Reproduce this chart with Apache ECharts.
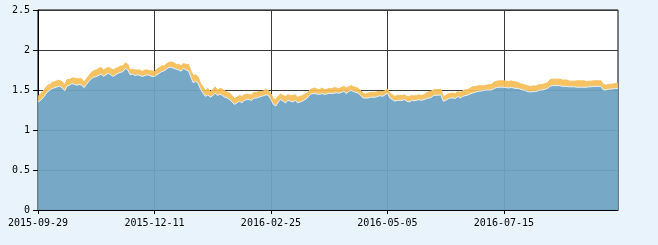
<!DOCTYPE html>
<html>
<head>
<meta charset="utf-8">
<script src="https://cdn.jsdelivr.net/npm/echarts@6/dist/echarts.min.js"></script>
<style>
html,body{margin:0;padding:0;background:#e8f3fb;}
#c{width:658px;height:245px;}
</style>
</head>
<body>
<div id="c"></div>
<script>
// Trading dates (categories)
const dates = [
'2015-09-29','2015-09-30',
'2015-10-08','2015-10-09','2015-10-12','2015-10-13','2015-10-14','2015-10-15','2015-10-16','2015-10-19','2015-10-20','2015-10-21','2015-10-22','2015-10-23','2015-10-26','2015-10-27','2015-10-28','2015-10-29','2015-10-30',
'2015-11-02','2015-11-03','2015-11-04','2015-11-05','2015-11-06','2015-11-09','2015-11-10','2015-11-11','2015-11-12','2015-11-13','2015-11-16','2015-11-17','2015-11-18','2015-11-19','2015-11-20','2015-11-23','2015-11-24','2015-11-25','2015-11-26','2015-11-27','2015-11-30',
'2015-12-01','2015-12-02','2015-12-03','2015-12-04','2015-12-07','2015-12-08','2015-12-09','2015-12-10',
'2015-12-11','2015-12-14','2015-12-15','2015-12-16','2015-12-17','2015-12-18','2015-12-21','2015-12-22','2015-12-23','2015-12-24','2015-12-25','2015-12-28','2015-12-29','2015-12-30','2015-12-31',
'2016-01-04','2016-01-05','2016-01-06','2016-01-07','2016-01-08','2016-01-11','2016-01-12','2016-01-13','2016-01-14','2016-01-15','2016-01-18','2016-01-19','2016-01-20','2016-01-21','2016-01-22','2016-01-25','2016-01-26','2016-01-27','2016-01-28','2016-01-29',
'2016-02-01','2016-02-02','2016-02-03','2016-02-04','2016-02-05','2016-02-15','2016-02-16','2016-02-17','2016-02-18','2016-02-19','2016-02-22','2016-02-23','2016-02-24',
'2016-02-25','2016-02-26','2016-02-29',
'2016-03-01','2016-03-02','2016-03-03','2016-03-04','2016-03-07','2016-03-08','2016-03-09','2016-03-10','2016-03-11','2016-03-14','2016-03-15','2016-03-16','2016-03-17','2016-03-18','2016-03-21','2016-03-22','2016-03-23','2016-03-24','2016-03-25','2016-03-28','2016-03-29','2016-03-30','2016-03-31',
'2016-04-01','2016-04-05','2016-04-06','2016-04-07','2016-04-08','2016-04-11','2016-04-12','2016-04-13','2016-04-14','2016-04-15','2016-04-18','2016-04-19','2016-04-20','2016-04-21','2016-04-22','2016-04-25','2016-04-26','2016-04-27','2016-04-28','2016-04-29',
'2016-05-03','2016-05-04',
'2016-05-05','2016-05-06','2016-05-09','2016-05-10','2016-05-11','2016-05-12','2016-05-13','2016-05-16','2016-05-17','2016-05-18','2016-05-19','2016-05-20','2016-05-23','2016-05-24','2016-05-25','2016-05-26','2016-05-27','2016-05-30','2016-05-31',
'2016-06-01','2016-06-02','2016-06-03','2016-06-06','2016-06-07','2016-06-13','2016-06-14','2016-06-15','2016-06-16','2016-06-17','2016-06-20','2016-06-21','2016-06-22','2016-06-23','2016-06-24','2016-06-27','2016-06-28','2016-06-29','2016-06-30',
'2016-07-01','2016-07-04','2016-07-05','2016-07-06','2016-07-07','2016-07-08','2016-07-11','2016-07-12','2016-07-13','2016-07-14',
'2016-07-15','2016-07-18','2016-07-19','2016-07-20','2016-07-21','2016-07-22','2016-07-25','2016-07-26','2016-07-27','2016-07-28','2016-07-29',
'2016-08-01','2016-08-02','2016-08-03','2016-08-04','2016-08-05','2016-08-08','2016-08-09','2016-08-10','2016-08-11','2016-08-12','2016-08-15','2016-08-16','2016-08-17','2016-08-18','2016-08-19','2016-08-22','2016-08-23','2016-08-24','2016-08-25','2016-08-26','2016-08-29','2016-08-30','2016-08-31',
'2016-09-01','2016-09-02','2016-09-05','2016-09-06','2016-09-07','2016-09-08','2016-09-09','2016-09-12','2016-09-13','2016-09-14',
'2016-09-19','2016-09-20','2016-09-21','2016-09-22'
];

// Lower (blue) series
const baseValues = [
1.35,1.37,1.40,1.44,1.48,1.50,1.52,1.53,1.54,1.55,
1.52,1.49,1.55,1.56,1.58,1.57,1.56,1.57,1.56,1.53,
1.57,1.61,1.64,1.66,1.67,1.68,1.70,1.67,1.69,1.71,
1.69,1.67,1.69,1.71,1.72,1.73,1.77,1.75,1.69,1.70,
1.68,1.69,1.68,1.67,1.68,1.69,1.68,1.67,1.67,1.69,
1.71,1.73,1.74,1.76,1.785,1.78,1.77,1.76,1.75,1.735,
1.77,1.75,1.74,1.66,1.59,1.61,1.58,1.51,1.46,1.42,
1.44,1.41,1.43,1.46,1.43,1.45,1.43,1.41,1.40,1.38,
1.35,1.32,1.34,1.36,1.34,1.37,1.38,1.38,1.37,1.40,
1.40,1.41,1.42,1.43,1.44,1.43,1.38,1.32,1.30,1.35,
1.38,1.36,1.34,1.37,1.36,1.35,1.37,1.34,1.35,1.36,
1.38,1.40,1.44,1.455,1.455,1.45,1.445,1.455,1.445,1.45,
1.46,1.455,1.46,1.465,1.46,1.47,1.485,1.455,1.48,1.495,
1.48,1.47,1.46,1.43,1.40,1.40,1.40,1.41,1.41,1.41,
1.42,1.43,1.42,1.44,1.46,1.40,1.38,1.36,1.37,1.37,
1.37,1.38,1.36,1.35,1.37,1.365,1.37,1.38,1.37,1.38,
1.39,1.40,1.405,1.43,1.435,1.435,1.44,1.36,1.37,1.39,
1.40,1.40,1.395,1.42,1.40,1.42,1.43,1.435,1.45,1.46,
1.47,1.48,1.485,1.49,1.495,1.50,1.50,1.50,1.52,1.53,
1.535,1.535,1.535,1.53,1.525,1.535,1.525,1.52,1.52,1.505,
1.50,1.49,1.48,1.475,1.48,1.48,1.49,1.50,1.50,1.51,
1.52,1.547,1.555,1.555,1.555,1.555,1.545,1.545,1.545,1.54,
1.54,1.54,1.535,1.535,1.535,1.535,1.535,1.54,1.54,1.545,
1.545,1.545,1.545,1.50,1.50,1.51,1.51,1.515,1.52,1.52
];

// Upper (orange) stacked series
const topValues = [
0.07,0.08,0.08,0.08,0.08,0.07,0.08,0.07,0.08,0.07,
0.08,0.08,0.08,0.07,0.07,0.08,0.08,0.07,0.08,0.07,
0.07,0.07,0.08,0.08,0.08,0.09,0.08,0.08,0.08,0.07,
0.08,0.08,0.08,0.07,0.08,0.07,0.07,0.07,0.06,0.06,
0.07,0.06,0.07,0.06,0.07,0.06,0.06,0.07,0.06,0.07,
0.07,0.07,0.06,0.07,0.06,0.07,0.07,0.06,0.07,0.07,
0.06,0.07,0.08,0.08,0.09,0.08,0.08,0.07,0.08,0.07,
0.08,0.07,0.07,0.08,0.07,0.07,0.08,0.08,0.07,0.08,
0.08,0.07,0.07,0.07,0.08,0.07,0.07,0.06,0.07,0.07,
0.07,0.07,0.06,0.06,0.07,0.06,0.07,0.07,0.08,0.07,
0.07,0.07,0.08,0.07,0.07,0.08,0.07,0.07,0.07,0.07,
0.07,0.06,0.06,0.06,0.07,0.06,0.06,0.07,0.06,0.06,
0.06,0.06,0.07,0.06,0.06,0.06,0.06,0.07,0.06,0.06,
0.06,0.06,0.06,0.06,0.06,0.05,0.06,0.06,0.06,0.06,
0.06,0.05,0.06,0.05,0.05,0.06,0.06,0.06,0.06,0.06,
0.06,0.06,0.06,0.07,0.06,0.06,0.06,0.06,0.06,0.06,
0.07,0.08,0.08,0.07,0.07,0.07,0.07,0.06,0.06,0.06,
0.06,0.06,0.06,0.06,0.07,0.07,0.07,0.07,0.07,0.08,
0.07,0.07,0.07,0.06,0.06,0.06,0.07,0.07,0.08,0.08,
0.08,0.08,0.08,0.08,0.08,0.08,0.08,0.08,0.07,0.07,
0.07,0.07,0.07,0.07,0.07,0.07,0.07,0.07,0.07,0.07,
0.07,0.08,0.08,0.08,0.08,0.08,0.08,0.08,0.08,0.07,
0.07,0.07,0.08,0.08,0.08,0.08,0.07,0.07,0.07,0.07,
0.07,0.07,0.07,0.07,0.06,0.06,0.06,0.06,0.06,0.06
];

const yMin = 0, yMax = 2.5, yStep = 0.5;
const labelEvery = 48;

const chart = echarts.init(document.getElementById('c'), null, {renderer: 'canvas'});
const font = {fontFamily: 'DejaVu Sans Mono', fontSize: 10, color: '#000'};
chart.setOption({
  animation: false,
  backgroundColor: '#e8f3fb',
  grid: {left: 38, right: 40, top: 10, bottom: 35, show: true, backgroundColor: '#fff', borderColor: '#000', borderWidth: 1},
  xAxis: {
    type: 'category', data: dates, boundaryGap: false,
    axisLine: {lineStyle: {color: '#000', width: 1}},
    axisTick: {show: true, interval: labelEvery - 1, length: 4, lineStyle: {color: '#000'}},
    axisLabel: Object.assign({interval: labelEvery - 1, margin: 8}, font),
    splitLine: {show: true, interval: labelEvery - 1, lineStyle: {color: '#3a3a3a', width: 1}}
  },
  yAxis: {
    type: 'value', min: yMin, max: yMax, interval: yStep,
    axisLine: {show: true, lineStyle: {color: '#000', width: 1}},
    axisTick: {show: true, length: 5, lineStyle: {color: '#000'}},
    axisLabel: Object.assign({margin: 8}, font),
    splitLine: {show: true, lineStyle: {color: '#3a3a3a', width: 1}}
  },
  series: [
    {
      type: 'line', stack: 'total', data: baseValues, showSymbol: false, symbol: 'none', z: 3,
      lineStyle: {color: '#e4f1fa', width: 1},
      itemStyle: {color: '#6ea4c3'},
      areaStyle: {color: '#6ea4c3', opacity: 0.94}
    },
    {
      type: 'line', stack: 'total', data: topValues, showSymbol: false, symbol: 'none', z: 2,
      lineStyle: {color: '#f6c05c', width: 1},
      itemStyle: {color: '#f6c05c'},
      areaStyle: {color: '#f6bd55', opacity: 0.92}
    }
  ]
});
</script>
</body>
</html>
